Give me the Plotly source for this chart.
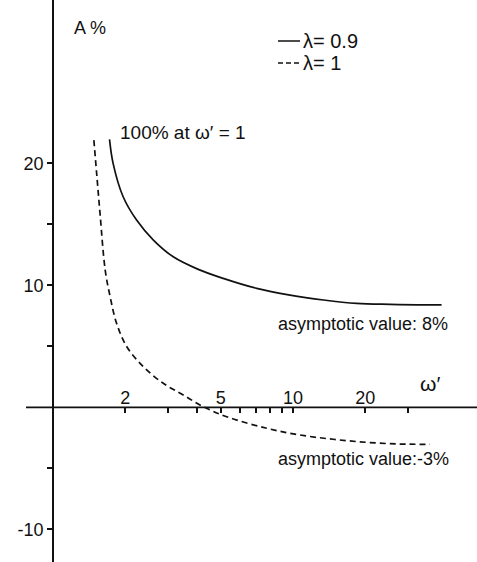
import plotly.graph_objects as go

# --- data (omega' on log axis, A in %) ---
omega_solid = [1.72, 1.78, 1.96, 2.23, 2.62, 3.17, 4.03, 5.12, 7.06, 9.72, 13.4, 18.4, 25.4, 41.6]
a_solid = [21.97, 20.0, 17.26, 15.35, 13.71, 12.34, 11.31, 10.57, 9.75, 9.2, 8.8, 8.52, 8.44, 8.39]

omega_dashed = [1.48, 1.52, 1.57, 1.65, 1.73, 1.84, 2.03, 2.38, 2.88, 3.49, 4.23, 5.29, 7.77, 10.7, 14.7, 20.3, 27.9, 37.2]
a_dashed = [21.9, 19.18, 15.9, 11.25, 9.07, 6.89, 4.97, 3.33, 1.97, 1.01, 0.05, -0.77, -1.72, -2.27, -2.62, -2.87, -3.01, -3.03]

series_names = ["λ= 0.9", "λ= 1"]

x_tickvals = [2, 3, 4, 5, 6, 7, 8, 9, 10, 20, 30]
x_labelvals = [2, 5, 10, 20]
x_labeltext = ["2", "5", "10", "20"]
y_tickvals = [20, 15, 10, 5, -5, -10]
y_ticktext = ["20", "", "10", "", "", "-10"]

W, H = 477, 562
x_range = [-53 / 240, 424 / 240]          # log10 range
y_range = [-12.68, 33.39]
FONT = "Liberation Sans, Arial, sans-serif"
INK = "#111111"
DASH = "6px,4px"
zero_pos = (0 - y_range[0]) / (y_range[1] - y_range[0])

fig = go.Figure()
fig.add_trace(go.Scatter(x=omega_solid, y=a_solid, mode="lines", name=series_names[0],
                         showlegend=False, xaxis="x", yaxis="y",
                         line=dict(color=INK, width=1.7, shape="spline")))
fig.add_trace(go.Scatter(x=omega_dashed, y=a_dashed, mode="lines", name=series_names[1],
                         showlegend=False, xaxis="x2", yaxis="y",
                         line=dict(color=INK, width=1.7, dash=DASH, shape="spline")))


def px(x):
    return x / W


def py(y):
    return 1 - y / H


annots = [
    dict(text="A %", x=px(72), y=py(28), xanchor="left", size=18),
    dict(text="100% at ω′ = 1", x=px(118), y=py(132), xanchor="left", size=19),
    dict(text="asymptotic value: 8%", x=px(276), y=py(324), xanchor="left", size=18),
    dict(text="asymptotic value:-3%", x=px(276), y=py(459), xanchor="left", size=18),
    dict(text="ω′", x=px(430), y=py(383), xanchor="center", size=21),
    # legend labels
    dict(text=series_names[0], x=px(301), y=py(41), xanchor="left", size=20),
    dict(text=series_names[1], x=px(301), y=py(63), xanchor="left", size=20),
]
for a in annots:
    fig.add_annotation(text=a["text"], x=a["x"], y=a["y"], xref="paper", yref="paper",
                       xanchor=a["xanchor"], yanchor="middle", showarrow=False,
                       font=dict(family=FONT, size=a["size"], color=INK))

# legend sample lines
fig.add_shape(type="line", xref="paper", yref="paper", x0=px(278), x1=px(300),
              y0=py(41), y1=py(41), line=dict(color=INK, width=1.5))
fig.add_shape(type="line", xref="paper", yref="paper", x0=px(278), x1=px(300),
              y0=py(63), y1=py(63), line=dict(color=INK, width=1.5, dash="5px,3px"))

# horizontal axis line at A = 0
fig.add_shape(type="line", xref="paper", yref="y", x0=26 / W, x1=1, y0=0, y1=0,
              line=dict(color=INK, width=1.7))

fig.update_layout(
    width=W, height=H,
    margin=dict(l=0, r=0, t=0, b=0),
    paper_bgcolor="white", plot_bgcolor="white",
    font=dict(family=FONT, size=18, color=INK),
    showlegend=False,
    # tick marks (pointing down) of the omega' axis
    xaxis=dict(type="log", range=x_range, anchor="free", position=zero_pos, side="bottom",
               showline=False, showgrid=False, zeroline=False,
               ticks="outside", ticklen=5, tickwidth=1.5, tickcolor=INK,
               tickmode="array", tickvals=x_tickvals, showticklabels=False,
               automargin=False),
    # tick labels (above the line) of the omega' axis
    xaxis2=dict(type="log", range=x_range, anchor="free", position=zero_pos, side="top",
                overlaying="x", matches="x",
                showline=False, showgrid=False, zeroline=False, ticks="",
                tickmode="array", tickvals=x_labelvals, ticktext=x_labeltext,
                tickfont=dict(size=18, color=INK), automargin=False),
    yaxis=dict(range=y_range, anchor="free", position=53 / W,
               showline=True, linecolor=INK, linewidth=1.7,
               showgrid=False, zeroline=False,
               ticks="outside", ticklen=5, tickwidth=1.5, tickcolor=INK,
               tickmode="array", tickvals=y_tickvals, ticktext=y_ticktext,
               tickfont=dict(size=18, color=INK), automargin=False),
)

fig.write_html("out.html", config={"displayModeBar": False},
               post_script="document.body.style.margin='0';document.body.style.padding='0';")
